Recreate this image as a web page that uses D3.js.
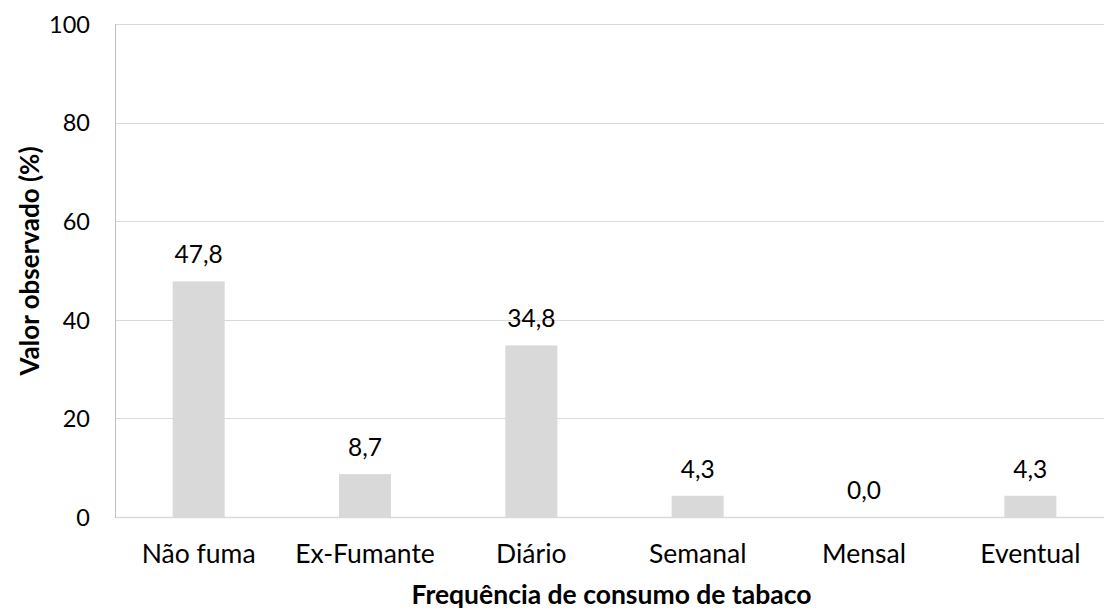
<!DOCTYPE html>
<html><head><meta charset="utf-8">
<script src="https://cdn.jsdelivr.net/npm/d3@7/dist/d3.min.js"></script>
<style>
html,body{margin:0;padding:0;background:#fff;overflow:hidden;}
svg{display:block;}
text{font-family:Lato,"Open Sans",sans-serif;fill:#000;}
</style></head><body>
<svg id="chart" width="1104" height="612"></svg>
<script>
const categories = ["Não fuma","Ex-Fumante","Diário","Semanal","Mensal","Eventual"];
const values = [47.8, 8.7, 34.8, 4.3, 0.0, 4.3];
const yTicks = [0,20,40,60,80,100];
const xTitle = "Frequência de consumo de tabaco";
const yTitle = "Valor observado (%)";

(function(){
const svg = d3.select("#chart");
const pLeft = 115.5, pRight = 1113.5, pTop = 24, pBottom = 517;
const x = d3.scaleBand().domain(categories).range([pLeft, pRight]).paddingInner(0.6873).paddingOuter(0.6873/2);
const y = d3.scaleLinear().domain([0,100]).range([pBottom, pTop]);
const fmt = v => v.toFixed(1).replace(".", ",");

// gridlines
svg.append("g").selectAll("line").data(yTicks.filter(t=>t>0)).join("line")
  .attr("x1", pLeft).attr("x2", pRight)
  .attr("y1", d=>Math.round(y(d))+0.5).attr("y2", d=>Math.round(y(d))+0.5)
  .attr("stroke", "#d9d9d9").attr("stroke-width", 1);

// bars
svg.append("g").selectAll("rect").data(values).join("rect")
  .attr("x", (d,i)=>x(categories[i]))
  .attr("width", x.bandwidth())
  .attr("y", d=>y(d))
  .attr("height", d=>y(0)-y(d))
  .attr("fill", "#d9d9d9");

// axes lines
svg.append("line").attr("x1", pLeft).attr("x2", pRight)
  .attr("y1", Math.round(y(0))+0.5).attr("y2", Math.round(y(0))+0.5)
  .attr("stroke", "#d9d9d9").attr("stroke-width", 1.5);
svg.append("line").attr("x1", pLeft).attr("x2", pLeft)
  .attr("y1", pTop).attr("y2", pBottom+1)
  .attr("stroke", "#bfbfbf").attr("stroke-width", 1);

// y axis tick labels
const yAxis = d3.axisLeft(y).tickValues(yTicks).tickSize(0).tickPadding(0);
const gy = svg.append("g").attr("transform", `translate(90,0)`).call(yAxis);
gy.select(".domain").remove();
gy.selectAll("text").attr("font-size", 23.5).attr("font-family", "Lato").attr("dy", "0.35em").attr("fill","#000");

// x axis tick labels
const xAxis = d3.axisBottom(x).tickSize(0).tickPadding(0);
const gx = svg.append("g").call(xAxis);
gx.select(".domain").remove();
gx.selectAll("text").attr("font-size", 26.5).attr("font-family", "Lato").attr("y", 563).attr("dy", 0).attr("fill","#000");

// data labels
svg.append("g").selectAll("text").data(values).join("text")
  .attr("x", (d,i)=>x(categories[i]) + x.bandwidth()/2)
  .attr("y", d=>y(d) - 18)
  .attr("text-anchor", "middle")
  .attr("font-size", 24.5)
  .text(d=>fmt(d));

// axis titles
svg.append("text").attr("x", 611.5).attr("y", 604)
  .attr("text-anchor", "middle").attr("font-size", 26.5).attr("font-weight", "bold")
  .text(xTitle);
svg.append("text").attr("transform", `translate(39,261) rotate(-90)`)
  .attr("text-anchor", "middle").attr("font-size", 26).attr("font-weight", "bold")
  .text(yTitle);
})();
</script>
</body></html>
